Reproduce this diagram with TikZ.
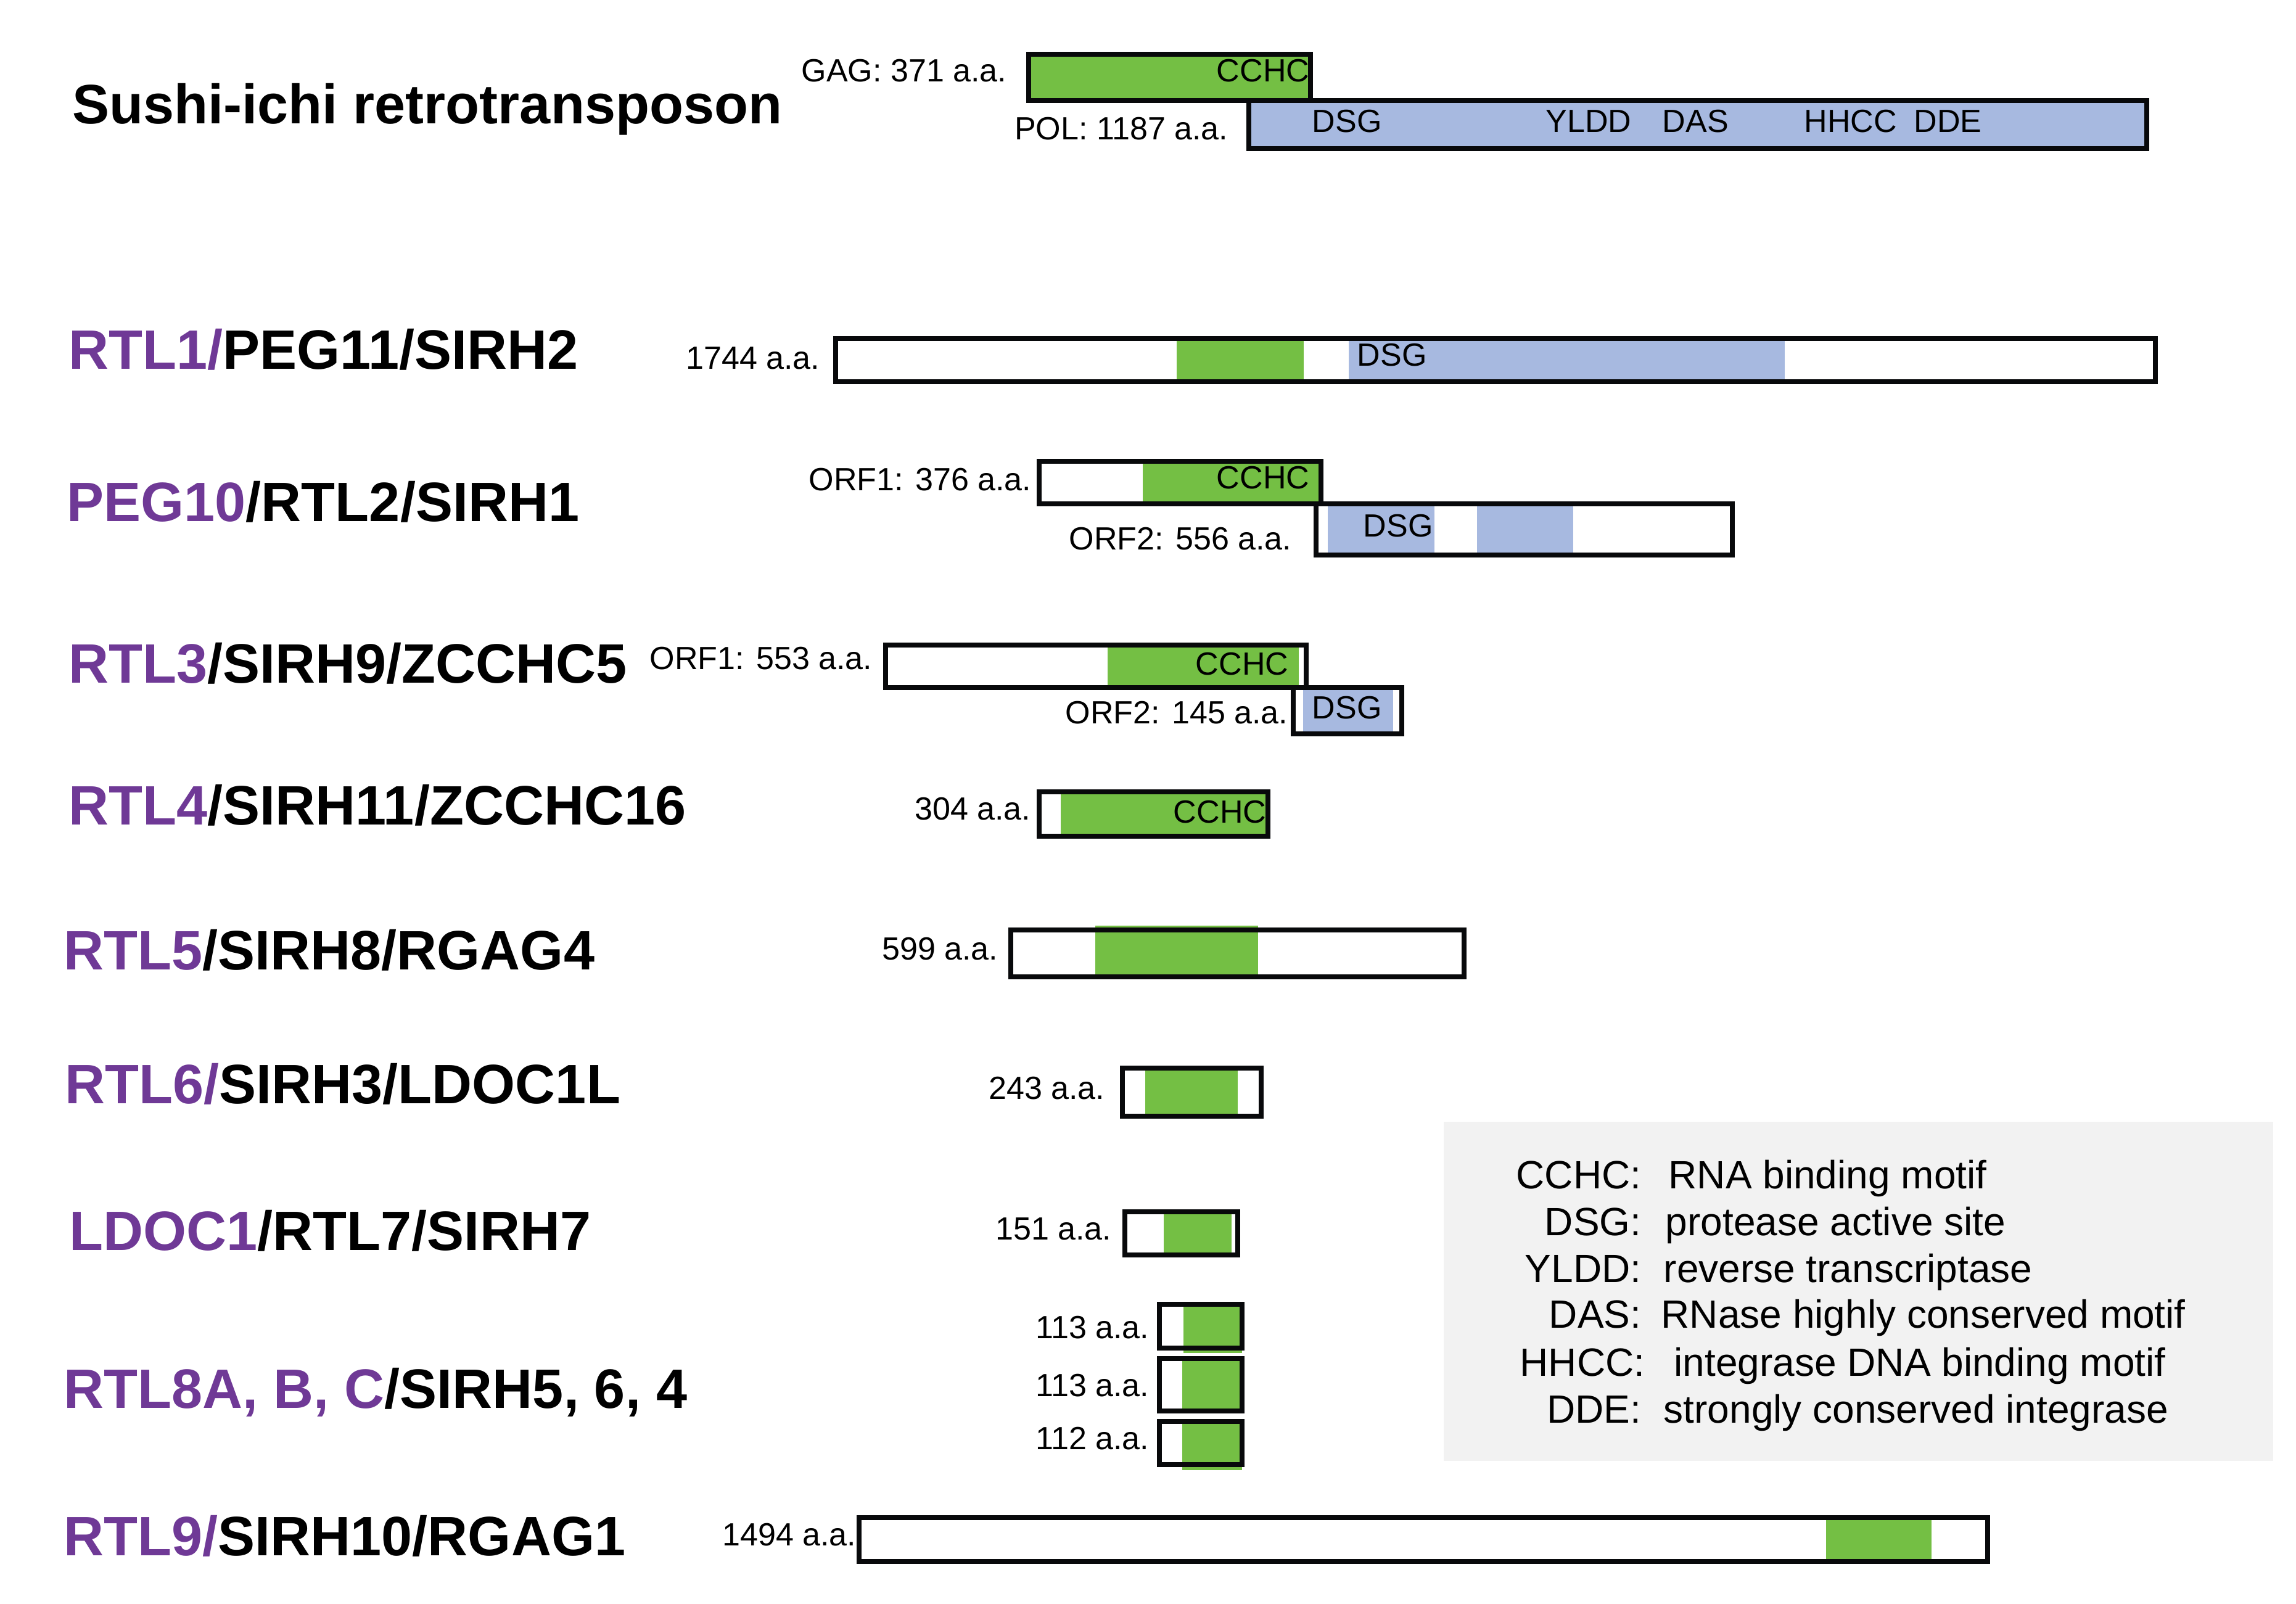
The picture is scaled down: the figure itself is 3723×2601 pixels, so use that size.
\documentclass[tikz,border=0pt]{standalone}
\usepackage{fontspec}
\setmainfont{Liberation Sans}
\definecolor{purp}{HTML}{6F3996}
\definecolor{gr}{HTML}{74BF44}
\definecolor{bl}{HTML}{A7B9E0}
\definecolor{lg}{HTML}{F2F2F2}
\definecolor{bk}{HTML}{08090B}
\begin{document}
\begin{tikzpicture}[x=0.01cm,y=-0.01cm,
  frame/.style={draw=bk,line width=0.8mm},
  gene/.style={anchor=base west,inner sep=0,font=\fontsize{25.6pt}{30pt}\selectfont\bfseries},
  aa/.style={anchor=base east,inner sep=0,font=\fontsize{14.8pt}{17pt}\selectfont},
  motif/.style={anchor=base west,inner sep=0,font=\fontsize{14.8pt}{17pt}\selectfont},
  motifr/.style={anchor=base east,inner sep=0,font=\fontsize{14.8pt}{17pt}\selectfont},
  legk/.style={anchor=base east,inner sep=0,font=\fontsize{18.2pt}{21pt}\selectfont},
  legv/.style={anchor=base west,inner sep=0,font=\fontsize{18.2pt}{21pt}\selectfont}]
\useasboundingbox (0,0) rectangle (3723,2601);

% legend background
\fill[lg] (2341,1819) rectangle (3686,2369);

% Sushi-ichi
\node[gene] (title) at (117,201) {Sushi-ichi retrotransposon};
\draw[frame,fill=gr] (1668,88) rectangle (2125,163);
\draw[frame,fill=bl] (2025,163) rectangle (3481,241);
\node[aa] (gagl) at (1633,133) {GAG: 371 a.a.};
\node[aa] (poll) at (1992,227) {POL: 1187 a.a.};
\node[motifr] (gagm) at (2124,133) {CCHC};
\node[motif] (pol1) at (2127,215) {DSG};
\node[motif] (pol2) at (2506,215) {YLDD};
\node[motif] (pol3) at (2695,215) {DAS};
\node[motif] (pol4) at (2925,215) {HHCC};
\node[motif] (pol5) at (3103,215) {DDE};

% RTL1
\node[gene] (g1) at (111,599) {\textcolor{purp}{RTL1/}PEG11/SIRH2};
\fill[gr] (1908,549) rectangle (2114,619);
\fill[bl] (2187,549) rectangle (2894,619);
\draw[frame] (1355,549) rectangle (3495,619);
\node[aa] (a1) at (1330,599) {1744 a.a.};
\node[motif] (m1) at (2200,594) {DSG};

% PEG10
\node[gene] (g2) at (108,846) {\textcolor{purp}{PEG10}/RTL2/SIRH1};
\fill[gr] (1853,748) rectangle (2142,817);
\draw[frame] (1685,748) rectangle (2142,817);
\fill[bl] (2153,817) rectangle (2326,900);
\fill[bl] (2395,817) rectangle (2551,900);
\draw[frame] (2134,817) rectangle (2809,900);
\node[aa] (a2a) at (1673,796) {ORF1: 376 a.a.};
\node[aa] (a2b) at (2095,892) {ORF2: 556 a.a.};
\node[motifr] (m2a) at (2124,793) {CCHC};
\node[motif] (m2b) at (2210,871) {DSG};

% RTL3
\node[gene] (g3) at (111,1108) {\textcolor{purp}{RTL3}/SIRH9/ZCCHC5};
\fill[gr] (1796,1046) rectangle (2106,1115);
\draw[frame] (1436,1046) rectangle (2118,1115);
\fill[bl] (2113,1115) rectangle (2259,1190);
\draw[frame] (2097,1115) rectangle (2273,1190);
\node[aa] (a3a) at (1415,1086) {ORF1: 553 a.a.};
\node[aa] (a3b) at (2089,1174) {ORF2: 145 a.a.};
\node[motifr] (m3a) at (2090,1095) {CCHC};
\node[motif] (m3b) at (2127,1166) {DSG};

% RTL4
\node[gene] (g4) at (111,1337) {\textcolor{purp}{RTL4}/SIRH11/ZCCHC16};
\fill[gr] (1720,1284) rectangle (2056,1356);
\draw[frame] (1685,1284) rectangle (2056,1356);
\node[aa] (a4) at (1672,1330) {304 a.a.};
\node[motifr] (m4) at (2054,1334) {CCHC};

% RTL5
\node[gene] (g5) at (103,1572) {\textcolor{purp}{RTL5}/SIRH8/RGAG4};
\fill[gr] (1776,1501) rectangle (2040,1584);
\draw[frame] (1639,1508) rectangle (2374,1584);
\node[aa] (a5) at (1619,1556) {599 a.a.};

% RTL6
\node[gene] (g6) at (105,1789) {\textcolor{purp}{RTL6/}SIRH3/LDOC1L};
\fill[gr] (1857,1732) rectangle (2007,1810);
\draw[frame] (1820,1732) rectangle (2045,1810);
\node[aa] (a6) at (1792,1782) {243 a.a.};

% LDOC1
\node[gene] (g7) at (112,2027) {\textcolor{purp}{LDOC1}/RTL7/SIRH7};
\fill[gr] (1887,1965) rectangle (1997,2035);
\draw[frame] (1824,1965) rectangle (2007,2035);
\node[aa] (a7) at (1803,2010) {151 a.a.};

% RTL8
\node[gene] (g8) at (103,2283) {\textcolor{purp}{RTL8A, B, C}/SIRH5, 6, 4};
\fill[gr] (1919,2115) rectangle (2014,2194);
\draw[frame] (1880,2115) rectangle (2014,2186);
\fill[gr] (1917,2203) rectangle (2014,2288);
\draw[frame] (1880,2203) rectangle (2014,2288);
\fill[gr] (1917,2305) rectangle (2014,2384);
\draw[frame] (1880,2305) rectangle (2014,2375);
\node[aa] (a8a) at (1864,2170) {113 a.a.};
\node[aa] (a8b) at (1864,2264) {113 a.a.};
\node[aa] (a8c) at (1864,2350) {112 a.a.};

% RTL9
\node[gene] (g9) at (103,2522) {\textcolor{purp}{RTL9/}SIRH10/RGAG1};
\fill[gr] (2961,2461) rectangle (3132,2532);
\draw[frame] (1393,2461) rectangle (3223,2532);
\node[aa] (a9) at (1389,2506) {1494 a.a.};

% legend
\node[legk] (k1) at (2662,1927) {CCHC:};
\node[legv] (v1) at (2705,1927) {RNA binding motif};
\node[legk] (k2) at (2662,2003) {DSG:};
\node[legv] (v2) at (2700,2003) {protease active site};
\node[legk] (k3) at (2662,2079) {YLDD:};
\node[legv] (v3) at (2697,2079) {reverse transcriptase};
\node[legk] (k4) at (2662,2153) {DAS:};
\node[legv] (v4) at (2693,2153) {RNase highly conserved motif};
\node[legk] (k5) at (2668,2231) {HHCC:};
\node[legv] (v5) at (2714,2231) {integrase DNA binding motif};
\node[legk] (k6) at (2662,2307) {DDE:};
\node[legv] (v6) at (2697,2307) {strongly conserved integrase};
\end{tikzpicture}
\end{document}
